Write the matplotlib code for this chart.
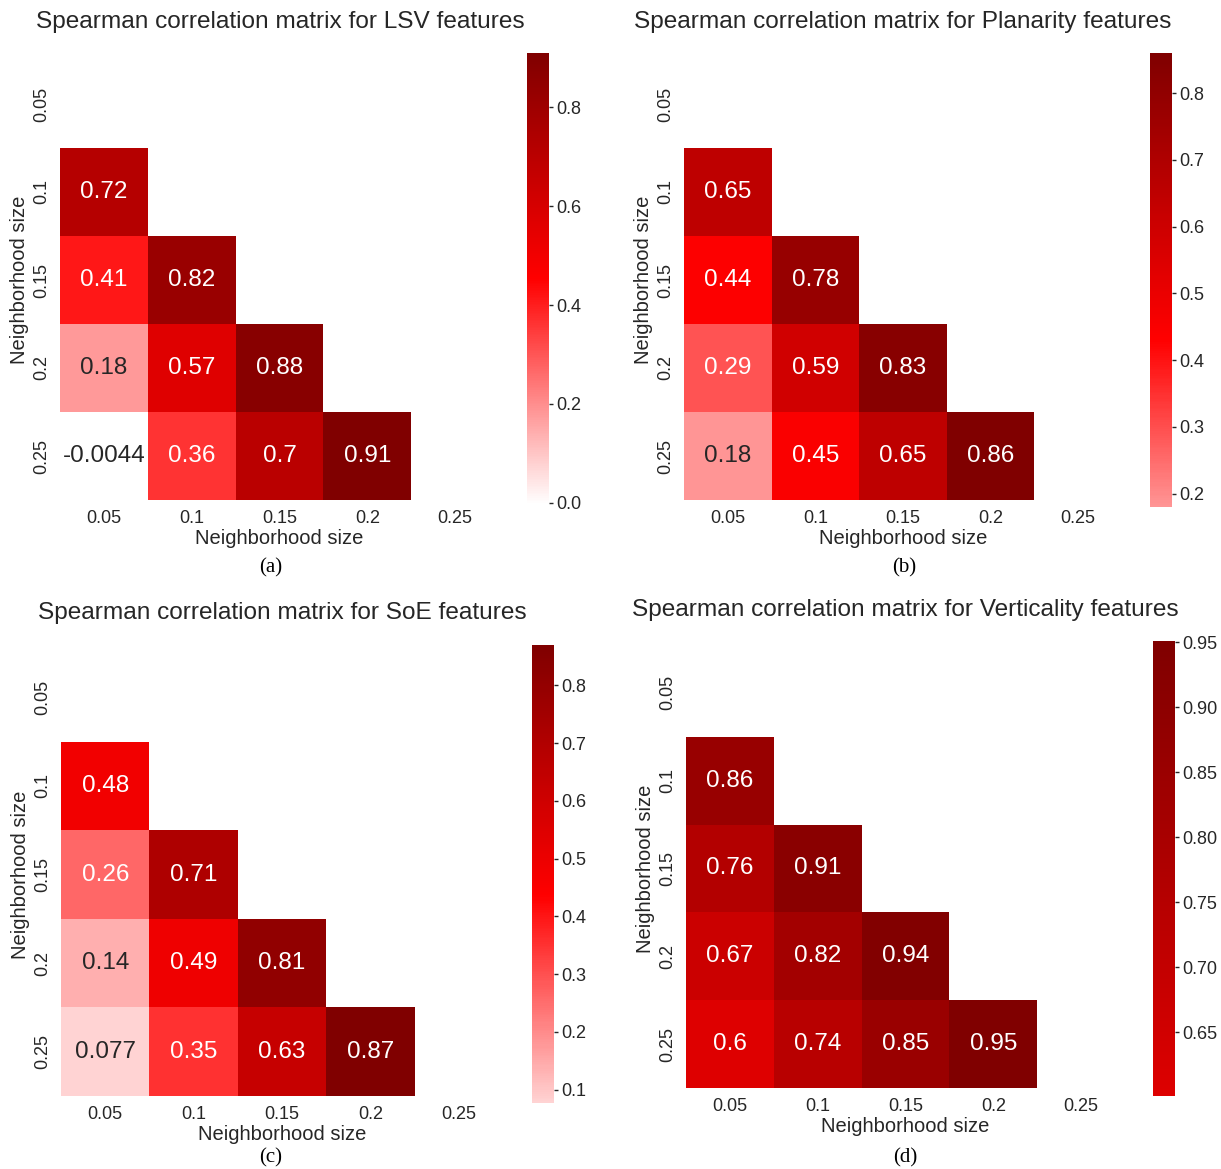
import numpy as np
import matplotlib
matplotlib.use("Agg")
import matplotlib.pyplot as plt
from matplotlib.colors import LinearSegmentedColormap, ListedColormap, Normalize, to_rgb

plt.rcParams["font.family"] = ["Liberation Sans", "DejaVu Sans"]
TEXT = "#262626"

# neighbourhood sizes (rows / columns of each matrix)
sizes = ["0.05", "0.1", "0.15", "0.2", "0.25"]

# lower triangles of the Spearman matrices, rows 0.1 .. 0.25
lsv = [[0.72],
       [0.41, 0.82],
       [0.18, 0.57, 0.88],
       [-0.0044, 0.36, 0.7, 0.91]]
planarity = [[0.65],
             [0.44, 0.78],
             [0.29, 0.59, 0.83],
             [0.18, 0.45, 0.65, 0.86]]
soe = [[0.48],
       [0.26, 0.71],
       [0.14, 0.49, 0.81],
       [0.077, 0.35, 0.63, 0.87]]
verticality = [[0.86],
               [0.76, 0.91],
               [0.67, 0.82, 0.94],
               [0.601, 0.74, 0.85, 0.951]]

names = ["LSV", "Planarity", "SoE", "Verticality"]
captions = ["(a)", "(b)", "(c)", "(d)"]

W, H = 1221, 1169
fig = plt.figure(figsize=(W / 100, H / 100), dpi=100)
fig.patch.set_facecolor("white")


def rect(x0, y0, x1, y1):
    return [x0 / W, 1 - y1 / H, (x1 - x0) / W, (y1 - y0) / H]


# pixel boxes: heatmap, colorbar, title (x, y), caption (x, y)
panels = [
    dict(heat=(60, 60, 499, 500), cbar=(527, 53, 549, 505), title=(280, 22), cap=(271, 568)),
    dict(heat=(684, 60, 1122, 500), cbar=(1150, 53, 1172, 507), title=(903, 22), cap=(904, 568)),
    dict(heat=(61, 653, 503, 1096), cbar=(532, 645, 554, 1103), title=(282, 613), cap=(271, 1158)),
    dict(heat=(686, 649, 1125, 1088), cbar=(1153, 641, 1175, 1096), title=(905, 610), cap=(905, 1158)),
]

base = LinearSegmentedColormap.from_list("wrd", ["#ffffff", "#ff0000", "#800000"])


def luminance(c):
    rgb = np.array(to_rgb(c))
    rgb = np.where(rgb <= 0.03928, rgb / 12.92, ((rgb + 0.055) / 1.055) ** 2.4)
    return 0.2126 * rgb[0] + 0.7152 * rgb[1] + 0.0722 * rgb[2]


def full_matrix(tri):
    n = len(sizes)
    m = np.full((n, n), np.nan)
    for i, row in enumerate(tri):
        m[i + 1, :len(row)] = row
    return m


for tri, name, cap, p in zip([lsv, planarity, soe, verticality], names, captions, panels):
    data = full_matrix(tri)
    vmin, vmax = np.nanmin(data), np.nanmax(data)
    # colours centred on zero: 0 -> white, max -> dark red
    vr = max(abs(vmin), abs(vmax))
    lo, hi = max(vmin, 0) / vr, vmax / vr
    cmap = ListedColormap(base(np.linspace(lo, hi, 256)))
    norm = Normalize(vmin, vmax)

    ax = fig.add_axes(rect(*p["heat"]))
    mesh = ax.pcolormesh(np.ma.masked_invalid(data), cmap=cmap, norm=norm)
    ax.set_xlim(0, 5)
    ax.set_ylim(5, 0)
    for s in ax.spines.values():
        s.set_visible(False)

    for i in range(5):
        for j in range(5):
            v = data[i, j]
            if np.isnan(v):
                continue
            col = cmap(norm(v))
            tc = TEXT if luminance(col) > 0.408 else "white"
            ax.text(j + 0.5, i + 0.5, f"{v:.2g}", ha="center", va="center",
                    fontsize=17.5, color=tc)

    ax.set_xticks(np.arange(5) + 0.5)
    ax.set_xticklabels(sizes)
    ax.set_yticks(np.arange(5) + 0.5)
    ax.set_yticklabels(sizes, rotation=90, va="center")
    ax.tick_params(length=0, labelsize=13, colors=TEXT, pad=7)
    ax.set_xlabel("Neighborhood size", fontsize=14.5, color=TEXT, labelpad=2)
    ax.set_ylabel("Neighborhood size", fontsize=14.5, color=TEXT, labelpad=3)

    cax = fig.add_axes(rect(*p["cbar"]))
    cb = fig.colorbar(mesh, cax=cax)
    cb.outline.set_visible(False)
    cax.tick_params(labelsize=13, colors=TEXT, length=3, width=1, pad=2)

    fig.text(p["title"][0] / W, 1 - p["title"][1] / H,
             f"Spearman correlation matrix for {name} features",
             ha="center", va="center", fontsize=17.6, color=TEXT)
    fig.text(p["cap"][0] / W, 1 - p["cap"][1] / H, cap, ha="center", va="center",
             fontsize=15, family="Liberation Serif", color="black")

fig.savefig("out.png", dpi=100, facecolor="white")
